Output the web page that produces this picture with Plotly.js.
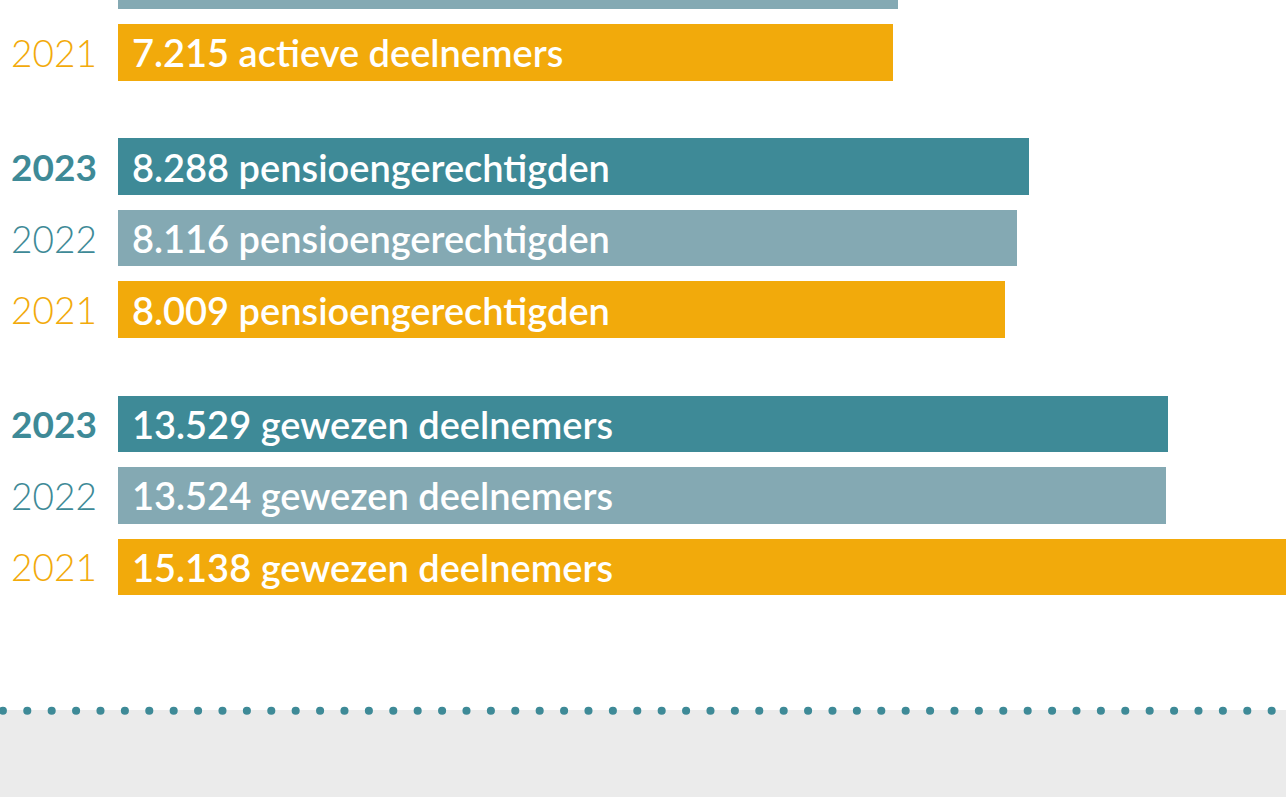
<!DOCTYPE html>
<html>
<head>
<meta charset="utf-8">
<script src="https://cdn.plot.ly/plotly-3.0.1.min.js"></script>
<style>
  html, body { margin: 0; padding: 0; background: #ffffff; }
  #chart { width: 1286px; height: 797px; }
  .shapelayer path { stroke-linecap: round; }
</style>
</head>
<body>
<div id="chart"></div>
<script>
// ---- data ----
const groupNames = ['actieve deelnemers', 'pensioengerechtigden', 'gewezen deelnemers'];
const rowYear   = ['2022', '2021', '2023', '2022', '2021', '2023', '2022', '2021'];
const rowGroup  = [0, 0, 1, 1, 1, 2, 2, 2];
const rowSlot   = [1, 2, 0, 1, 2, 0, 1, 2];
const rowCount  = ['', '7.215', '8.288', '8.116', '8.009', '13.529', '13.524', '15.138'];
// displayed bar lengths (infographic, not proportional to the counts)
const barLength = [780, 775, 911, 899, 887, 1050, 1048, 1190];

const yearColor = { '2023': '#3e8a97', '2022': '#84a9b3', '2021': '#f2aa0b' };
const yearLabelColor = { '2023': '#3e8a97', '2022': '#3e8a97', '2021': '#f2aa0b' };
const yearWeight = { '2023': 700, '2022': 300, '2021': 300 };

const GROUP_STEP = 3.6;
const yPos = rowGroup.map((g, i) => g * GROUP_STEP + rowSlot[i]);

const trace = {
  type: 'bar',
  orientation: 'h',
  x: barLength,
  y: yPos,
  width: 0.793,
  marker: { color: rowYear.map(y => yearColor[y]), line: { width: 0 } },
  hoverinfo: 'skip',
  cliponaxis: true
};

const annotations = [];
rowYear.forEach((yr, i) => {
  annotations.push({
    xref: 'paper', yref: 'y', x: 0, y: yPos[i],
    xanchor: 'left', yanchor: 'middle', xshift: 9, yshift: 0,
    text: yr, showarrow: false,
    font: { family: 'Lato, sans-serif', size: 37, color: yearLabelColor[yr], weight: yearWeight[yr] }
  });
  if (rowCount[i]) {
    annotations.push({
      xref: 'x', yref: 'y', x: 0, y: yPos[i],
      xanchor: 'left', yanchor: 'middle', xshift: 12, yshift: 0,
      text: rowCount[i] + ' ' + groupNames[rowGroup[i]], showarrow: false,
      font: { family: 'Lato, sans-serif', size: 38, color: '#ffffff', weight: 600 }
    });
  }
});

const H = 797;
const layout = {
  width: 1286, height: 797,
  margin: { l: 0, r: 0, t: 0, b: 0, pad: 0 },
  paper_bgcolor: '#ffffff', plot_bgcolor: 'rgba(0,0,0,0)',
  showlegend: false,
  xaxis: { range: [-117.5, 1168.5], showgrid: false, zeroline: false, showticklabels: false, ticks: '', fixedrange: true },
  yaxis: { range: [12.417, 1.27], showgrid: false, zeroline: false, showticklabels: false, ticks: '', fixedrange: true },
  bargap: 0,
  annotations: annotations,
  shapes: [
    { type: 'rect', xref: 'paper', yref: 'paper', x0: 0, x1: 1, y0: 0, y1: 1 - 710 / H,
      fillcolor: '#ebebeb', line: { width: 0 }, layer: 'below' },
    { type: 'line', xref: 'paper', yref: 'paper', x0: 0.0022, x1: 1, y0: 1 - 710.7 / H, y1: 1 - 710.7 / H,
      line: { color: '#3e8a97', width: 8, dash: '0.1px,24.3px' }, layer: 'above' }
  ]
};

Plotly.newPlot('chart', [trace], layout, { staticPlot: true, displayModeBar: false });
</script>
</body>
</html>
